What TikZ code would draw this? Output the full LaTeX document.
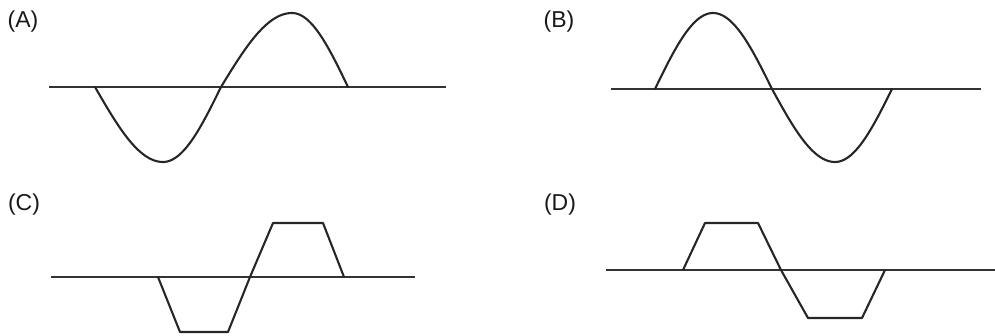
\documentclass[tikz,border=0pt]{standalone}
\usepackage{fontspec}
\setmainfont{Liberation Sans}
\begin{document}
\begin{tikzpicture}[x=1pt,y=-1pt,
  axisline/.style={line width=2.3pt,draw=black!80},
  wave/.style={line width=2.1pt,draw=black!85,line join=round,line cap=round},
  lbl/.style={font=\fontsize{23}{26}\selectfont,inner sep=0pt,text=black!90}]
\useasboundingbox (0,0) rectangle (995,336);
% labels
\node[lbl] (la) at (23,21.5) {(A)};
\node[lbl] (lb) at (559,21.5) {(B)};
\node[lbl] (lc) at (24,205) {(C)};
\node[lbl] (ld) at (560,205) {(D)};
% (A)
\draw[axisline] (49,87) -- (446,87);
\draw[wave]
  plot[variable=\t,domain=0:90,samples=30,smooth] ({95+\t/90*68},{87+75*sin(\t)})
  -- plot[variable=\t,domain=90:180,samples=30,smooth] ({163+(\t-90)/90*58},{87+75*sin(\t)})
  -- plot[variable=\t,domain=0:90,samples=30,smooth] ({221+\t/90*71},{87-74*sin(\t)})
  -- plot[variable=\t,domain=90:180,samples=30,smooth] ({292+(\t-90)/90*56},{87-74*sin(\t)});
% (B)
\draw[axisline] (611,89) -- (981,89);
\draw[wave]
  plot[variable=\t,domain=0:90,samples=30,smooth] ({655+\t/90*58},{89-76*sin(\t)})
  -- plot[variable=\t,domain=90:180,samples=30,smooth] ({713+(\t-90)/90*59},{89-76*sin(\t)})
  -- plot[variable=\t,domain=0:90,samples=30,smooth] ({772+\t/90*63},{89+73*sin(\t)})
  -- plot[variable=\t,domain=90:180,samples=30,smooth] ({835+(\t-90)/90*57},{89+73*sin(\t)});
% (C)
\draw[axisline] (51,277) -- (415,277);
\draw[wave] (158,277) -- (180,332) -- (228,332) -- (250,277) -- (273,223) -- (323,223) -- (344,277);
% (D)
\draw[axisline] (606,270) -- (995,270);
\draw[wave] (683,270) -- (705,223) -- (758,223) -- (781,270) -- (808,318) -- (862,318) -- (885,270);
\end{tikzpicture}
\end{document}
